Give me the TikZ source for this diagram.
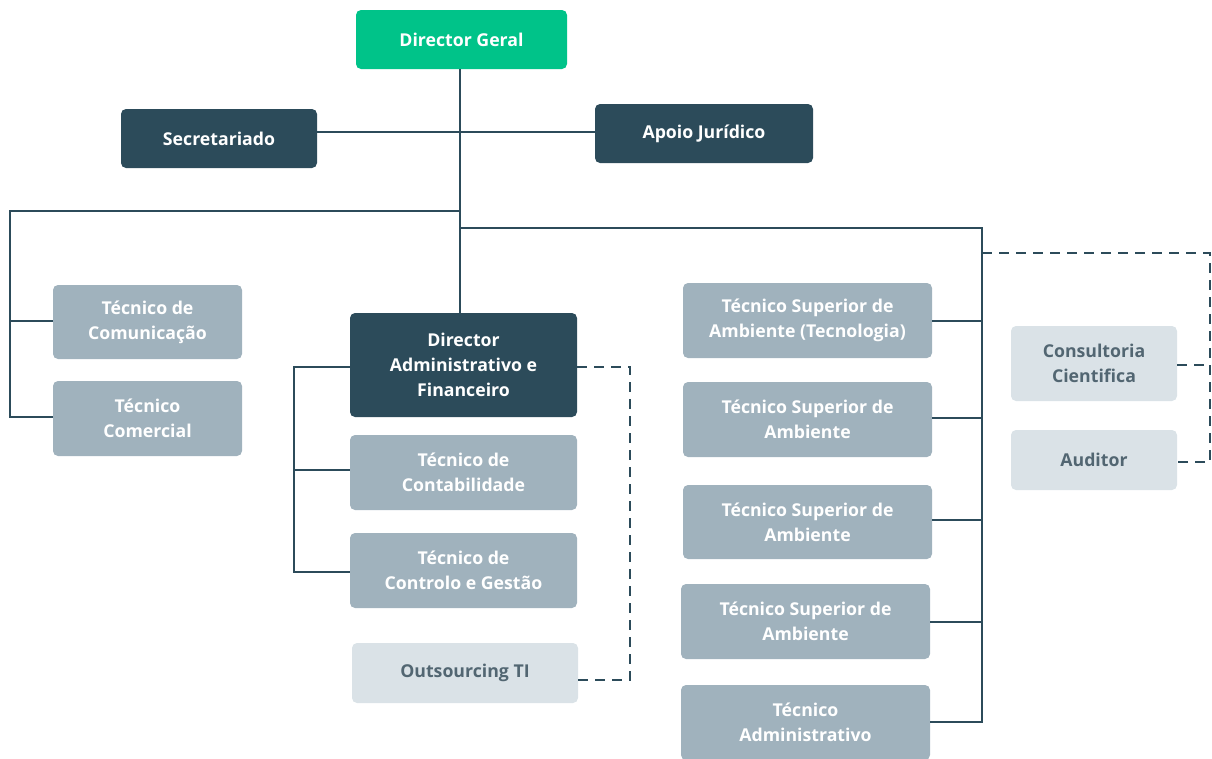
\documentclass[tikz,border=0pt]{standalone}
\usepackage{fontspec}
\setmainfont{Open Sans}
\definecolor{dggreen}{RGB}{0,195,137}
\definecolor{dark}{RGB}{44,75,90}
\definecolor{mid}{RGB}{160,178,189}
\definecolor{light}{RGB}{218,226,231}
\definecolor{ltext}{RGB}{82,102,114}
\tikzset{
  box/.style={rounded corners=5pt, inner sep=0pt, align=center,
    font=\fontsize{17.7}{25}\selectfont\bfseries, text=white},
  greenbox/.style={box, fill=dggreen},
  darkbox/.style={box, fill=dark},
  midbox/.style={box, fill=mid},
  lightbox/.style={box, fill=light, text=ltext},
  conn/.style={draw=dark, line width=2.6pt},
  dconn/.style={conn, dash pattern=on 10pt off 7pt}
}
\begin{document}
\begin{tikzpicture}[x=1pt,y=-1pt]
\useasboundingbox (0,0) rectangle (1212,758);
\clip (0,0) rectangle (1212,758);
\coordinate (spine) at (460,0);
\coordinate (L) at (10,211);
\coordinate (R) at (982,228);
\coordinate (D) at (1210,253);
\coordinate (M) at (294,0);
\coordinate (O) at (630,0);

\node[greenbox, minimum width=211pt, minimum height=59pt] (dg) at (461.5,39.5) {Director Geral};
\node[darkbox, minimum width=196pt, minimum height=59pt] (sec) at (219,138.5) {Secretariado};
\node[darkbox, minimum width=218pt, minimum height=59pt] (apo) at (704,133.5) {Apoio Jurídico};
\node[midbox, minimum width=189pt, minimum height=74pt] (com) at (147.5,322) {Técnico de\\Comunicação};
\node[midbox, minimum width=189pt, minimum height=75pt] (coml) at (147.5,418.5) {Técnico\\Comercial};
\node[darkbox, minimum width=227pt, minimum height=104pt] (daf) at (463.5,365) {Director\\Administrativo e\\Financeiro};
\node[midbox, minimum width=227pt, minimum height=75pt] (cont) at (463.5,472.5) {Técnico de\\Contabilidade};
\node[midbox, minimum width=227pt, minimum height=75pt] (ctrl) at (463.5,570.5) {Técnico de\\Controlo e Gestão};
\node[lightbox, minimum width=226pt, minimum height=60pt] (out) at (465,673) {Outsourcing TI};
\node[midbox, minimum width=249pt, minimum height=75pt] (t1) at (807.5,320.5) {Técnico Superior de\\Ambiente (Tecnologia)};
\node[midbox, minimum width=249pt, minimum height=75pt] (t2) at (807.5,419.5) {Técnico Superior de\\Ambiente};
\node[midbox, minimum width=249pt, minimum height=74pt] (t3) at (807.5,522) {Técnico Superior de\\Ambiente};
\node[midbox, minimum width=249pt, minimum height=75pt] (t4) at (805.5,621.5) {Técnico Superior de\\Ambiente};
\node[midbox, minimum width=249pt, minimum height=75pt] (t5) at (805.5,722.5) {Técnico\\Administrativo};
\node[lightbox, minimum width=166pt, minimum height=75pt] (cons) at (1094,363.5) {Consultoria\\Cientifica};
\node[lightbox, minimum width=166pt, minimum height=60pt] (aud) at (1094,460) {Auditor};

\begin{scope}[on background layer/.style={}]
\draw[conn] (spine |- dg.south) -- (spine |- daf.north);
\draw[conn] (sec.east |- 0,132) -- (apo.west |- 0,132);
\draw[conn] (spine |- L) -- (L) -- (L |- 0,417) -- (coml.west |- 0,417);
\draw[conn] (L |- 0,321) -- (com.west |- 0,321);
\draw[conn] (spine |- R) -- (R) -- (R |- 0,722) -- (t5.east |- 0,722);
\draw[conn] (t1.east |- 0,321) -- (R |- 0,321);
\draw[conn] (t2.east |- 0,418) -- (R |- 0,418);
\draw[conn] (t3.east |- 0,520) -- (R |- 0,520);
\draw[conn] (t4.east |- 0,622) -- (R |- 0,622);
\draw[dconn] (R |- D) -- (D) -- (D |- 0,462) -- (aud.east |- 0,462);
\draw[dconn] (cons.east |- 0,365) -- (D |- 0,365);
\draw[conn] (daf.west |- 0,367) -- (M |- 0,367) -- (M |- 0,572) -- (ctrl.west |- 0,572);
\draw[conn] (M |- 0,470) -- (cont.west |- 0,470);
\draw[dconn] (daf.east |- 0,367) -- (O |- 0,367) -- (O |- 0,680) -- (out.east |- 0,680);
\end{scope}
\end{tikzpicture}
\end{document}
